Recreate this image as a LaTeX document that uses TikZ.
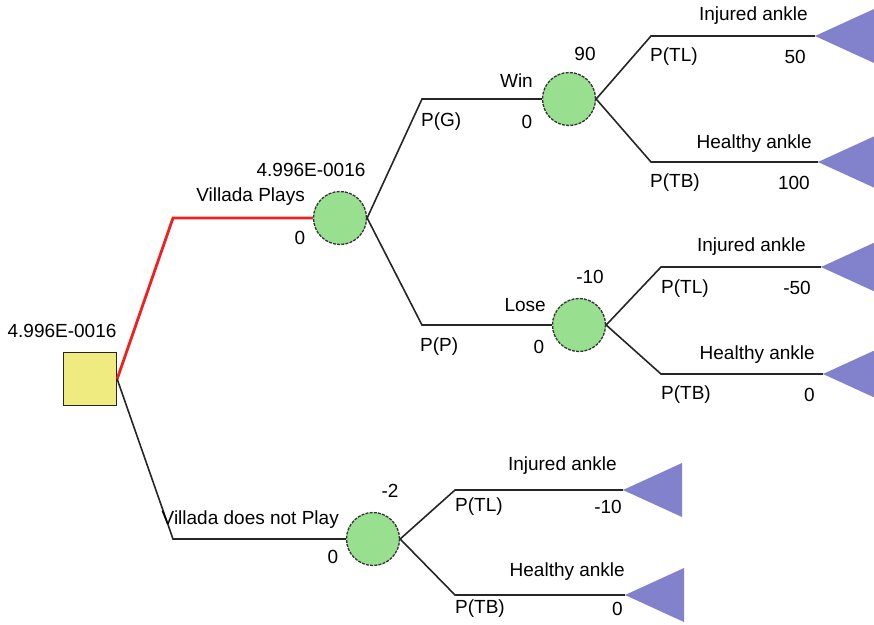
\documentclass[tikz,border=0pt]{standalone}
\usepackage{fontspec}
\setmainfont{Liberation Sans}
\definecolor{decfill}{HTML}{F0EB80}
\definecolor{chancefill}{HTML}{98E090}
\definecolor{termfill}{HTML}{8282CC}
\definecolor{bestpath}{HTML}{F02020}
\begin{document}
\begin{tikzpicture}[x=1pt,y=-1pt,
  txt/.style={inner sep=0pt,font=\fontsize{19}{22}\selectfont},
  decision/.style={draw=black!85,fill=decfill,minimum size=53pt,inner sep=0pt,line width=1.3pt},
  chance/.style={circle,draw=black!80,dash pattern=on 3pt off 1.2pt,fill=chancefill,minimum size=53pt,inner sep=0pt,line width=1.3pt},
  branch/.style={line width=1.6pt,black!85},
  best/.style={line width=2.8pt,bestpath},
  terminal/.pic={\fill[termfill] (0,0) -- (59,-27) -- (59,27) -- cycle;}
]
\useasboundingbox (0,0) rectangle (874,624);

% decision and chance nodes
\node[decision] (root) at (90,379) {};
\node[chance] (play) at (340,218) {};
\node[chance] (win) at (569,99) {};
\node[chance] (lose) at (579,325) {};
\node[chance] (noplay) at (373,539) {};

% branch corners
\coordinate (kplay) at (173,218);
\coordinate (knoplay) at (173,539);
\coordinate (kwin) at (422,99);
\coordinate (klose) at (422,325);
\coordinate (kw1) at (651,36);
\coordinate (kw2) at (651,162);
\coordinate (kl1) at (661,267);
\coordinate (kl2) at (661,374);
\coordinate (kn1) at (455,490);
\coordinate (kn2) at (455,595);

% terminal tips
\coordinate (tw1) at (815,36);
\coordinate (tw2) at (818,162);
\coordinate (tl1) at (821,267);
\coordinate (tl2) at (823,374);
\coordinate (tn1) at (623,490);
\coordinate (tn2) at (625,595);
\foreach \t in {tw1,tw2,tl1,tl2,tn1,tn2} \pic at (\t) {terminal};

% branches
\draw[best] (root.east) -- (kplay) -- (play.west);
\draw[branch] (root.east) -- (knoplay) -- (noplay.west);
\draw[branch] (play.east) -- (kwin) -- (win.west);
\draw[branch] (play.east) -- (klose) -- (lose.west);
\draw[branch] (win.east) -- (kw1) -- (tw1);
\draw[branch] (win.east) -- (kw2) -- (tw2);
\draw[branch] (lose.east) -- (kl1) -- (tl1);
\draw[branch] (lose.east) -- (kl2) -- (tl2);
\draw[branch] (noplay.east) -- (kn1) -- (tn1);
\draw[branch] (noplay.east) -- (kn2) -- (tn2);

% root
\node[txt] (vroot) at (62,331) {4.996E-0016};

% Villada plays
\node[txt,anchor=east] (lplay) at (305,197) {Villada Plays};
\node[txt] (vplay) at (311,170) {4.996E-0016};
\node[txt] (pplay) at (300,238) {0};

% win
\node[txt,anchor=east] (lwin) at (533,81) {Win};
\node[txt,anchor=west] (pwin) at (421,122) {P(G)};
\node[txt] (cwin) at (527,122) {0};
\node[txt] (vwin) at (585,54) {90};

\node[txt,anchor=east] (lw1) at (808,16) {Injured ankle};
\node[txt,anchor=west] (pw1) at (650,57) {P(TL)};
\node[txt,anchor=east] (vw1) at (806,57) {50};
\node[txt,anchor=east] (lw2) at (812,144) {Healthy ankle};
\node[txt,anchor=west] (pw2) at (650,183) {P(TB)};
\node[txt,anchor=east] (vw2) at (810,183) {100};

% lose
\node[txt,anchor=east] (llose) at (546,305) {Lose};
\node[txt,anchor=west] (plose) at (420,347) {P(P)};
\node[txt] (close) at (539,347) {0};
\node[txt] (vlose) at (590,277) {-10};

\node[txt,anchor=east] (ll1) at (806,247) {Injured ankle};
\node[txt,anchor=west] (pl1) at (661,289) {P(TL)};
\node[txt,anchor=east] (vl1) at (811,288) {-50};
\node[txt,anchor=east] (ll2) at (815,355) {Healthy ankle};
\node[txt,anchor=west] (pl2) at (661,395) {P(TB)};
\node[txt,anchor=east] (vl2) at (815,395) {0};

% Villada does not play
\node[txt,anchor=east] (lnoplay) at (339,520) {Villada does not Play};
\node[txt] (pnoplay) at (333,557) {0};
\node[txt] (vnoplay) at (390,491) {-2};

\node[txt,anchor=east] (ln1) at (617,466) {Injured ankle};
\node[txt,anchor=west] (pn1) at (455,507) {P(TL)};
\node[txt,anchor=east] (vn1) at (622,507) {-10};
\node[txt,anchor=east] (ln2) at (625,572) {Healthy ankle};
\node[txt,anchor=west] (pn2) at (455,609) {P(TB)};
\node[txt,anchor=east] (vn2) at (623,609) {0};
\end{tikzpicture}
\end{document}
